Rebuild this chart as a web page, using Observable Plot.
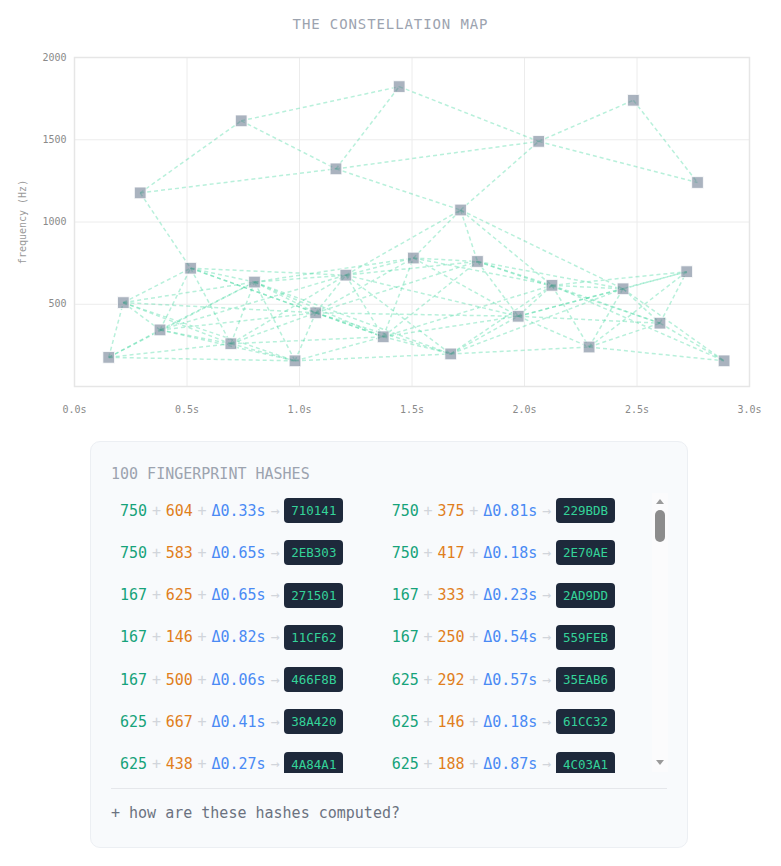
<!DOCTYPE html>
<html>
<head>
<meta charset="utf-8">
<script src="https://cdn.jsdelivr.net/npm/d3@7"></script>
<script src="https://cdn.jsdelivr.net/npm/@observablehq/plot@0.6"></script>
<style>
  html, body { margin: 0; padding: 0; background: #ffffff; }
  body { width: 781px; font-family: "DejaVu Sans Mono", monospace; }
  #title { height: 40px; line-height: 48px; text-align: center; font-size: 14px; letter-spacing: 0.9px; color: #9ca3af; }
  #chart svg { display: block; }
  #panel { position: relative; box-sizing: border-box; margin: 16px 0 0 90px; width: 598px; height: 407px; padding: 21px 20px 0 20px;
           background: #f8fafc; border: 1px solid #eceff3; border-radius: 10px; }
  #panel .head { font-size: 15px; line-height: 20px; color: #9ca3af; height: 20px; padding-top: 1px; }
  #list { margin-top: 10px; height: 279px; overflow: hidden; box-sizing: border-box; }
  #grid { display: grid; grid-template-columns: 271.7px 260px; row-gap: 17.3px; padding: 4px 0 0 9px; }
  .row { display: flex; align-items: center; gap: 4.8px; height: 25px; font-size: 15px; white-space: nowrap; }
  .a { color: #16a37a; }
  .b { color: #e07f1c; }
  .d { color: #4a8af4; }
  .p { color: #d1d5db; }
  .arr { color: #d1d5db; }
  .badge { background: #1e293b; color: #34d399; font-size: 12.5px; height: 25px; line-height: 25px; padding: 0 7px; border-radius: 4px; }
  #divider { border-top: 1px solid #e5e7eb; margin-top: 15px; }
  #foot { margin-top: 14px; font-size: 15px; line-height: 20px; color: #6b7280; }
  #track { position: absolute; left: 561px; top: 51px; width: 16px; height: 279px; background: #fbfbfc; }
  #thumb { position: absolute; left: 564px; top: 68px; width: 10px; height: 32px; background: #8c8c8c; border-radius: 5px; }
  #up { position: absolute; left: 565px; top: 57px; width: 0; height: 0; border-left: 4.5px solid transparent; border-right: 4.5px solid transparent; border-bottom: 5px solid #9a9a9a; }
  #down { position: absolute; left: 565px; top: 318px; width: 0; height: 0; border-left: 4.5px solid transparent; border-right: 4.5px solid transparent; border-top: 5px solid #9a9a9a; }
</style>
</head>
<body>
<div id="title">THE CONSTELLATION MAP</div>
<div id="chart"></div>
<div id="panel">
  <div class="head" id="head"></div>
  <div id="list"><div id="grid"></div></div>
  <div id="divider"></div>
  <div id="foot">+ how are these hashes computed?</div>
  <div id="track"></div><div id="thumb"></div><div id="up"></div><div id="down"></div>
</div>
<script>
// Spectrogram peaks (time in s, frequency in Hz, as plotted)
const peakTimes = [0.152, 0.217, 0.292, 0.380, 0.516, 0.695, 0.741, 0.800, 0.980, 1.072,
                   1.162, 1.206, 1.372, 1.443, 1.506, 1.672, 1.716, 1.791, 1.972, 2.063,
                   2.122, 2.287, 2.438, 2.484, 2.602, 2.721, 2.769, 2.887];
const peakFreqs = [177, 510, 1177, 344, 719, 260, 1615, 635, 156, 448,
                   1323, 677, 302, 1823, 781, 198, 1073, 760, 427, 1490,
                   615, 240, 594, 1740, 385, 698, 1240, 156];

// Anchor -> target pairs (1-based peak numbers), 100 pairs
const pairs = [
  [1,2],[1,4],[1,6],[1,8],[1,9],
  [2,4],[2,5],[2,6],[2,8],[2,9],[2,10],
  [3,5],[3,7],[3,11],
  [4,5],[4,6],[4,8],[4,9],[4,10],[4,12],
  [5,6],[5,8],[5,10],[5,12],[5,13],
  [6,8],[6,9],[6,10],[6,12],[6,13],
  [7,11],[7,14],
  [8,9],[8,10],[8,12],[8,13],[8,15],[8,16],
  [9,10],[9,13],[9,16],
  [10,12],[10,13],[10,15],[10,16],[10,18],[10,19],
  [11,14],[11,17],[11,20],
  [12,13],[12,15],[12,16],[12,17],[12,18],[12,19],
  [13,15],[13,16],[13,18],[13,19],[13,21],
  [14,20],
  [15,17],[15,18],[15,19],[15,21],
  [16,19],[16,21],[16,22],[16,23],
  [17,18],[17,20],[17,21],[17,23],
  [18,19],[18,21],[18,23],[18,25],
  [19,21],[19,22],[19,23],[19,25],[19,26],
  [20,24],[20,27],
  [21,22],[21,23],[21,25],[21,26],[21,28],
  [22,23],[22,25],[22,26],[22,28],
  [23,25],[23,26],[23,28],
  [24,27],
  [25,26],[25,28]
];

const xTicks = [0, 0.5, 1.0, 1.5, 2.0, 2.5, 3.0];
const yTicks = [500, 1000, 1500, 2000];
const yLabel = "frequency (Hz)";

// Visible fingerprint hashes
const hashCount = 100;
const hashAnchor = [750, 750, 750, 750, 167, 167, 167, 167, 167, 625, 625, 625, 625, 625];
const hashTarget = [604, 375, 583, 417, 625, 333, 146, 250, 500, 292, 667, 146, 438, 188];
const hashDelta  = [0.33, 0.81, 0.65, 0.18, 0.65, 0.23, 0.82, 0.54, 0.06, 0.57, 0.41, 0.18, 0.27, 0.87];
const hashCode   = ["710141", "229BDB", "2EB303", "2E70AE", "271501", "2AD9DD", "11CF62", "559FEB",
                    "466F8B", "35EAB6", "38A420", "61CC32", "4A84A1", "4C03A1"];

const peaks = peakTimes.map((t, i) => ({t, f: peakFreqs[i]}));
const links = pairs.map(([a, b]) => ({
  x1: peakTimes[a - 1], y1: peakFreqs[a - 1], x2: peakTimes[b - 1], y2: peakFreqs[b - 1]
}));

const fmtX = d => d.toFixed(1) + "s";
const fmtY = d => String(d);
const chart = Plot.plot({
  width: 781, height: 385,
  marginLeft: 74, marginRight: 32, marginTop: 17, marginBottom: 39,
  style: {fontFamily: "DejaVu Sans Mono", fontSize: "10px", background: "transparent"},
  x: {domain: [0, 3]},
  y: {domain: [0, 2000]},
  marks: [
    Plot.gridX(xTicks, {stroke: "#ececec", strokeOpacity: 1, strokeWidth: 1}),
    Plot.gridY(yTicks, {stroke: "#ececec", strokeOpacity: 1, strokeWidth: 1}),
    Plot.frame({stroke: "#e6e6e6", strokeWidth: 1.5}),
    Plot.axisX(xTicks, {tickSize: 0, tickPadding: 19, tickFormat: fmtX, fill: "#8a8a8a", label: null}),
    Plot.axisY(yTicks, {tickSize: 0, tickPadding: 8, tickFormat: fmtY, fill: "#8a8a8a", label: null}),
    Plot.text([yLabel], {text: d => d, frameAnchor: "left", dx: -52, rotate: -90, textAnchor: "middle", lineAnchor: "middle", fill: "#9a9a9a", fontSize: 10}),
    Plot.link(links, {x1: "x1", y1: "y1", x2: "x2", y2: "y2", stroke: "#34d399", strokeOpacity: 0.35, strokeWidth: 1.5, strokeDasharray: "4,3"}),
    Plot.dot(peaks, {x: "t", y: "f", symbol: "square", r: 6.6, fill: "#64748b", fillOpacity: 0.55, stroke: "#ffffff", strokeOpacity: 0.8, strokeWidth: 1})
  ]
});
document.getElementById("chart").appendChild(chart);

document.getElementById("head").textContent = hashCount + " FINGERPRINT HASHES";
const grid = document.getElementById("grid");
hashCode.forEach((code, i) => {
  const row = document.createElement("div");
  row.className = "row";
  const parts = [
    ["a", String(hashAnchor[i])], ["p", "+"], ["b", String(hashTarget[i])], ["p", "+"],
    ["d", "Δ" + hashDelta[i].toFixed(2) + "s"], ["arr", "→"], ["badge", code]
  ];
  for (const [cls, txt] of parts) {
    const s = document.createElement("span");
    s.className = cls; s.textContent = txt;
    row.appendChild(s);
  }
  grid.appendChild(row);
});
</script>
</body>
</html>
